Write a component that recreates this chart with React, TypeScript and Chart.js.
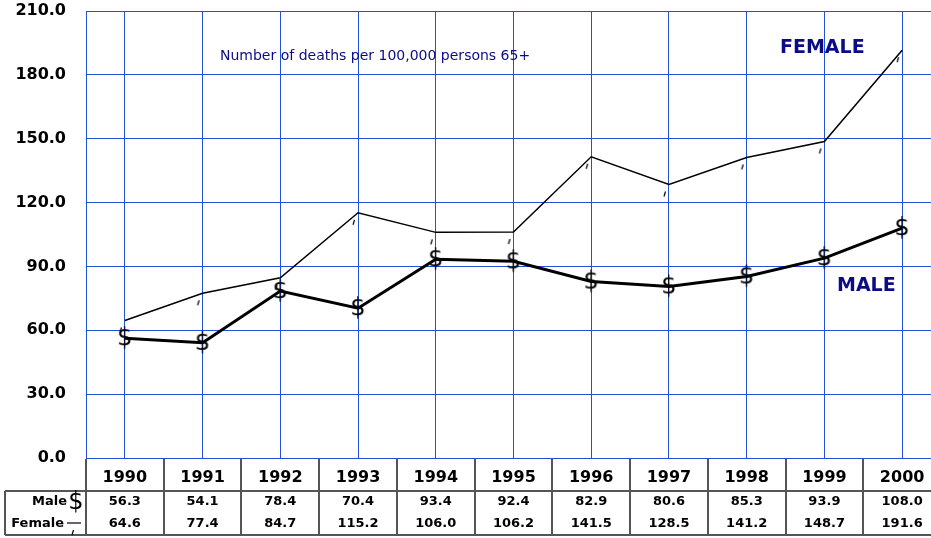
import React, { useEffect, useRef } from "react";
import { Chart, registerables } from "chart.js";
Chart.register(...registerables);

const years = ["1990", "1991", "1992", "1993", "1994", "1995", "1996", "1997", "1998", "1999", "2000"];
const maleValues = [56.3, 54.1, 78.4, 70.4, 93.4, 92.4, 82.9, 80.6, 85.3, 93.9, 108.0];
const femaleValues = [64.6, 77.4, 84.7, 115.2, 106.0, 106.2, 141.5, 128.5, 141.2, 148.7, 191.6];
const yMin = 0;
const yMax = 210;
const yStep = 30;
const subtitle = "Number of deaths per 100,000 persons 65+";
const femaleLabel = "FEMALE";
const maleLabel = "MALE";
const rowLabels = ["Male", "Female"];

const NAVY = "#0c0c84";
const GRID = "#1f52d6";
const TABLE_LINE = "#555555";
const FONT = "'DejaVu Sans', Verdana, sans-serif";

function makeDollar(): HTMLCanvasElement {
  const c = document.createElement("canvas");
  c.width = 26;
  c.height = 30;
  const ctx = c.getContext("2d")!;
  ctx.fillStyle = "#000";
  ctx.font = `24px ${FONT}`;
  ctx.textAlign = "center";
  ctx.textBaseline = "middle";
  ctx.fillText("$", 13, 16);
  return c;
}

function makeTick(): HTMLCanvasElement {
  const c = document.createElement("canvas");
  c.width = 30;
  c.height = 30;
  const ctx = c.getContext("2d")!;
  ctx.strokeStyle = "#000";
  ctx.lineWidth = 1.2;
  ctx.beginPath();
  ctx.moveTo(15 - 5, 15 + 12);
  ctx.lineTo(15 - 3.5, 15 + 7);
  ctx.stroke();
  return c;
}

const overlayPlugin = {
  id: "overlay",
  afterDraw(chart: any) {
    const ctx = chart.ctx as CanvasRenderingContext2D;
    const xs = chart.scales.x;
    const area = chart.chartArea;
    const colW = xs.getPixelForValue(1) - xs.getPixelForValue(0);
    const b = area.bottom;
    const rowTop = b + 33;
    const r1 = b + 44;
    const r2 = b + 66;
    const tableBottom = b + 77;
    const tableLeft = 5;
    const right = xs.getPixelForValue(years.length - 1) + colW / 2;

    ctx.save();
    ctx.strokeStyle = TABLE_LINE;
    ctx.lineWidth = 2;
    for (let i = 0; i <= years.length; i++) {
      const x = Math.round(xs.getPixelForValue(i) - colW / 2);
      ctx.beginPath();
      ctx.moveTo(x, b + 1);
      ctx.lineTo(x, tableBottom);
      ctx.stroke();
    }
    ctx.beginPath();
    ctx.moveTo(tableLeft, rowTop);
    ctx.lineTo(right, rowTop);
    ctx.moveTo(tableLeft, tableBottom);
    ctx.lineTo(right, tableBottom);
    ctx.moveTo(tableLeft, rowTop);
    ctx.lineTo(tableLeft, tableBottom);
    ctx.stroke();

    ctx.fillStyle = "#000";
    ctx.font = `bold 13px ${FONT}`;
    ctx.textAlign = "center";
    ctx.textBaseline = "middle";
    years.forEach((_, i) => {
      const x = xs.getPixelForValue(i);
      ctx.fillText(maleValues[i].toFixed(1), x, r1);
      ctx.fillText(femaleValues[i].toFixed(1), x, r2);
    });

    ctx.textAlign = "right";
    ctx.fillText(rowLabels[0], 67, r1);
    ctx.fillText(rowLabels[1], 64, r2);
    ctx.font = `24px ${FONT}`;
    ctx.textAlign = "center";
    ctx.fillText("$", 76, r1 + 1);
    ctx.strokeStyle = "#000";
    ctx.lineWidth = 1.2;
    ctx.beginPath();
    ctx.moveTo(67, r2 - 1);
    ctx.lineTo(81, r2 - 1);
    ctx.stroke();
    ctx.beginPath();
    ctx.moveTo(72, r2 + 11);
    ctx.lineTo(73.5, r2 + 6);
    ctx.stroke();

    ctx.fillStyle = NAVY;
    ctx.textAlign = "left";
    ctx.font = `14px ${FONT}`;
    ctx.fillText(subtitle, area.left + 134, area.top + 45);
    ctx.font = `bold 19px ${FONT}`;
    ctx.fillText(femaleLabel, area.left + 694, area.top + 37);
    ctx.fillText(maleLabel, area.left + 751, area.top + 275);
    ctx.restore();
  },
};

export default function App() {
  const ref = useRef<HTMLCanvasElement | null>(null);
  useEffect(() => {
    document.body.style.margin = "0";
    document.body.style.overflow = "hidden";
    const dollar = makeDollar();
    const tick = makeTick();
    const chart = new Chart(ref.current!, {
      type: "line",
      data: {
        labels: years,
        datasets: [
          {
            label: "Female",
            data: femaleValues,
            borderColor: "#000",
            borderWidth: 1.5,
            pointStyle: tick as any,
            pointRadius: 5,
            tension: 0,
          },
          {
            label: "Male",
            data: maleValues,
            borderColor: "#000",
            borderWidth: 3,
            pointStyle: dollar as any,
            pointRadius: 8,
            tension: 0,
          },
        ],
      },
      options: {
        responsive: false,
        animation: false,
        devicePixelRatio: 1,
        layout: { padding: { top: 10, right: 5, left: 0, bottom: 0 } },
        plugins: { legend: { display: false }, tooltip: { enabled: false } },
        scales: {
          x: {
            offset: true,
            grid: { color: GRID, lineWidth: 1, drawTicks: false, offset: false },
            border: { color: GRID, width: 1 },
            ticks: {
              color: "#000",
              font: { family: FONT, size: 16, weight: "bold" },
              padding: 10,
              maxRotation: 0,
            },
            afterFit: (s: any) => {
              s.height = 80;
              s.paddingLeft = 0;
              s.paddingRight = 0;
            },
          },
          y: {
            min: yMin,
            max: yMax,
            grid: { color: GRID, lineWidth: 1, drawTicks: false },
            border: { color: GRID, width: 1 },
            ticks: {
              stepSize: yStep,
              color: "#000",
              font: { family: FONT, size: 16, weight: "bold" },
              padding: 20,
              callback: (v: any) => Number(v).toFixed(1),
            },
            afterFit: (s: any) => {
              s.width = 86;
              s.paddingTop = 0;
              s.paddingBottom = 0;
            },
          },
        },
      },
      plugins: [overlayPlugin],
    });
    return () => chart.destroy();
  }, []);
  return (
    <div style={{ position: "fixed", left: 0, top: 0, width: 931, height: 538, overflow: "hidden", background: "#fff" }}>
      <canvas ref={ref} width={952} height={538} style={{ width: 952, height: 538, display: "block" }} />
    </div>
  );
}
